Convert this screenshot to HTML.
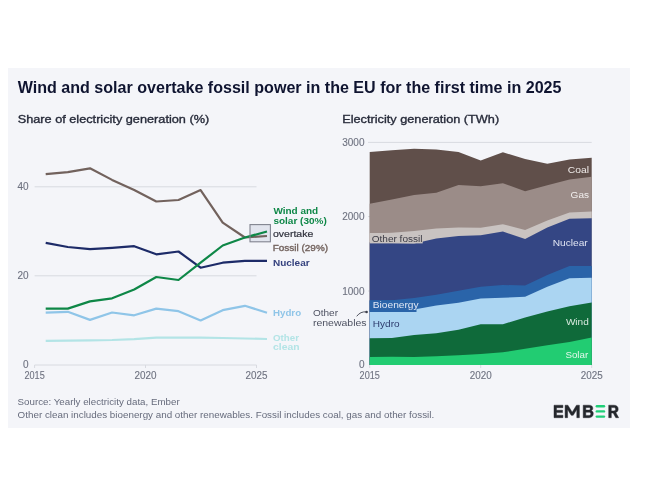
<!DOCTYPE html>
<html><head><meta charset="utf-8"><style>
html,body{margin:0;padding:0;background:#fff;width:650px;height:500px;overflow:hidden}
svg{display:block;will-change:transform}
text{font-family:"Liberation Sans", sans-serif}
</style></head><body>
<svg width="650" height="500" viewBox="0 0 650 500">
<rect x="8" y="68" width="622" height="360" fill="#f4f5f9"/>
<text x="17.7" y="92.8" font-size="15.8" font-weight="bold" fill="#0f1430" textLength="543.8" lengthAdjust="spacingAndGlyphs">Wind and solar overtake fossil power in the EU for the first time in 2025</text>
<text x="17.7" y="122.6" font-size="11.6" fill="#272b3a" stroke="#272b3a" stroke-width="0.35" textLength="191.5" lengthAdjust="spacingAndGlyphs">Share of electricity generation (%)</text>
<text x="342.2" y="122.6" font-size="11.6" fill="#272b3a" stroke="#272b3a" stroke-width="0.35" textLength="157" lengthAdjust="spacingAndGlyphs">Electricity generation (TWh)</text>
<line x1="34.6" y1="186.8" x2="256.5" y2="186.8" stroke="#d8dae0" stroke-width="1"/>
<text x="28.6" y="190.20000000000002" font-size="10" fill="#6f7381" stroke="#6f7381" stroke-width="0.12" text-anchor="end">40</text>
<line x1="34.6" y1="275.8" x2="256.5" y2="275.8" stroke="#d8dae0" stroke-width="1"/>
<text x="28.6" y="279.2" font-size="10" fill="#6f7381" stroke="#6f7381" stroke-width="0.12" text-anchor="end">20</text>
<line x1="34.6" y1="365" x2="256.5" y2="365" stroke="#d8dae0" stroke-width="1"/>
<text x="28.6" y="368.2" font-size="10" fill="#6f7381" stroke="#6f7381" stroke-width="0.12" text-anchor="end">0</text>
<line x1="34.6" y1="365" x2="34.6" y2="368" stroke="#d8dae0" stroke-width="1"/>
<text x="24.5" y="379.2" font-size="10" fill="#6f7381" stroke="#6f7381" stroke-width="0.12" textLength="20.2" lengthAdjust="spacingAndGlyphs">2015</text>
<line x1="145.5" y1="365" x2="145.5" y2="368" stroke="#d8dae0" stroke-width="1"/>
<text x="134.5" y="379.2" font-size="10" fill="#6f7381" stroke="#6f7381" stroke-width="0.12" textLength="22.0" lengthAdjust="spacingAndGlyphs">2020</text>
<line x1="256.5" y1="365" x2="256.5" y2="368" stroke="#d8dae0" stroke-width="1"/>
<text x="245.5" y="379.2" font-size="10" fill="#6f7381" stroke="#6f7381" stroke-width="0.12" textLength="22.0" lengthAdjust="spacingAndGlyphs">2025</text>
<rect x="250" y="224.6" width="20.4" height="17.2" fill="#e2e5ee"/>
<polyline points="45.7,340.8 67.8,340.6 90.0,340.3 112.1,340.0 134.2,339.2 156.3,337.7 178.5,337.7 200.6,337.7 222.7,338.0 244.9,338.5 267.0,339.0" fill="none" stroke="#b3e4e6" stroke-width="2.2" stroke-linejoin="round" stroke-linecap="butt"/>
<polyline points="45.7,312.7 67.8,311.8 90.0,319.9 112.1,312.5 134.2,315.3 156.3,308.6 178.5,311.2 200.6,320.5 222.7,310.2 244.9,305.8 267.0,312.7" fill="none" stroke="#8fc5e8" stroke-width="2.2" stroke-linejoin="round" stroke-linecap="butt"/>
<polyline points="45.7,174.2 67.8,172.2 90.0,168.3 112.1,179.9 134.2,190.1 156.3,201.5 178.5,200.0 200.6,190.1 222.7,222.6 244.9,237.5 267.0,236.0" fill="none" stroke="#72625d" stroke-width="2.2" stroke-linejoin="round" stroke-linecap="butt"/>
<polyline points="45.7,242.9 67.8,247.0 90.0,249.2 112.1,247.9 134.2,246.2 156.3,254.3 178.5,251.5 200.6,267.7 222.7,262.7 244.9,260.8 267.0,260.8" fill="none" stroke="#1d2b68" stroke-width="2.2" stroke-linejoin="round" stroke-linecap="butt"/>
<polyline points="45.7,308.6 67.8,308.6 90.0,301.4 112.1,298.3 134.2,289.5 156.3,277.0 178.5,280.0 200.6,262.7 222.7,245.5 244.9,237.5 267.0,231.5" fill="none" stroke="#0e8747" stroke-width="2.2" stroke-linejoin="round" stroke-linecap="butt"/>
<rect x="250" y="224.6" width="20.4" height="17.2" fill="none" stroke="#80838f" stroke-width="1.1"/>
<text x="273.4" y="214.3" font-size="9.2" font-weight="bold" fill="#0e8747" textLength="44.8" lengthAdjust="spacingAndGlyphs">Wind and</text>
<text x="273.4" y="224.4" font-size="9.2" font-weight="bold" fill="#0e8747" textLength="53.4" lengthAdjust="spacingAndGlyphs">solar (30%)</text>
<text x="273" y="237.4" font-size="9.2" fill="#30323d" stroke="#30323d" stroke-width="0.2" textLength="40.3" lengthAdjust="spacingAndGlyphs">overtake</text>
<text x="272.7" y="250.5" font-size="9.2" fill="#72625d" stroke="#72625d" stroke-width="0.35" textLength="55.4" lengthAdjust="spacingAndGlyphs">Fossil (29%)</text>
<text x="273" y="266.3" font-size="9.2" font-weight="bold" fill="#34417e" textLength="36.6" lengthAdjust="spacingAndGlyphs">Nuclear</text>
<text x="273" y="316.1" font-size="9.2" font-weight="bold" fill="#8fc5e8" textLength="28.1" lengthAdjust="spacingAndGlyphs">Hydro</text>
<text x="273" y="340.8" font-size="9.2" font-weight="bold" fill="#b3e4e6" textLength="26" lengthAdjust="spacingAndGlyphs">Other</text>
<text x="273" y="349.7" font-size="9.2" font-weight="bold" fill="#b3e4e6" textLength="26.5" lengthAdjust="spacingAndGlyphs">clean</text>
<line x1="368" y1="142.4" x2="591.7" y2="142.4" stroke="#d8dae0" stroke-width="1"/>
<text x="364.5" y="145.9" font-size="10" fill="#6f7381" stroke="#6f7381" stroke-width="0.12" text-anchor="end">3000</text>
<line x1="368" y1="216.6" x2="591.7" y2="216.6" stroke="#d8dae0" stroke-width="1"/>
<text x="364.5" y="220.1" font-size="10" fill="#6f7381" stroke="#6f7381" stroke-width="0.12" text-anchor="end">2000</text>
<line x1="368" y1="291.0" x2="591.7" y2="291.0" stroke="#d8dae0" stroke-width="1"/>
<text x="364.5" y="294.5" font-size="10" fill="#6f7381" stroke="#6f7381" stroke-width="0.12" text-anchor="end">1000</text>
<text x="364.5" y="368.2" font-size="10" fill="#6f7381" stroke="#6f7381" stroke-width="0.12" text-anchor="end">0</text>
<line x1="369.7" y1="364.5" x2="369.7" y2="368" stroke="#d8dae0" stroke-width="1"/>
<text x="359.6" y="379.2" font-size="10" fill="#6f7381" stroke="#6f7381" stroke-width="0.12" textLength="20.2" lengthAdjust="spacingAndGlyphs">2015</text>
<line x1="480.7" y1="364.5" x2="480.7" y2="368" stroke="#d8dae0" stroke-width="1"/>
<text x="469.7" y="379.2" font-size="10" fill="#6f7381" stroke="#6f7381" stroke-width="0.12" textLength="22.0" lengthAdjust="spacingAndGlyphs">2020</text>
<line x1="591.7" y1="364.5" x2="591.7" y2="368" stroke="#d8dae0" stroke-width="1"/>
<text x="580.7" y="379.2" font-size="10" fill="#6f7381" stroke="#6f7381" stroke-width="0.12" textLength="22.0" lengthAdjust="spacingAndGlyphs">2025</text>
<polygon points="369.7,152.1 391.9,150.3 414.1,148.7 436.3,149.5 458.5,152.1 480.7,160.6 502.9,152.3 525.1,159.0 547.3,163.8 569.5,159.4 591.7,157.8 591.7,364.9 369.7,364.9" fill="#604f4a"/>
<polygon points="369.7,203.8 391.9,199.6 414.1,195.0 436.3,192.7 458.5,185.1 480.7,186.2 502.9,183.2 525.1,191.3 547.3,185.3 569.5,179.6 591.7,176.8 591.7,364.9 369.7,364.9" fill="#9b8c88"/>
<polygon points="369.7,233.5 391.9,232.7 414.1,230.9 436.3,228.5 458.5,227.4 480.7,227.8 502.9,224.2 525.1,230.0 547.3,220.5 569.5,212.4 591.7,211.5 591.7,364.9 369.7,364.9" fill="#c9c3c1"/>
<polygon points="369.7,242.3 391.9,243.1 414.1,243.6 436.3,238.6 458.5,235.9 480.7,235.2 502.9,231.5 525.1,239.1 547.3,227.5 569.5,218.7 591.7,218.2 591.7,364.9 369.7,364.9" fill="#344684"/>
<polygon points="369.7,300.4 391.9,300.2 414.1,297.9 436.3,294.8 458.5,290.7 480.7,286.8 502.9,285.0 525.1,285.5 547.3,275.1 569.5,266.0 591.7,266.0 591.7,364.9 369.7,364.9" fill="#2a64a9"/>
<polygon points="369.7,311.8 391.9,311.5 414.1,309.5 436.3,305.5 458.5,302.8 480.7,298.5 502.9,297.7 525.1,296.7 547.3,286.8 569.5,278.2 591.7,277.7 591.7,364.9 369.7,364.9" fill="#abd5f2"/>
<polygon points="369.7,338.2 391.9,338.0 414.1,335.0 436.3,333.2 458.5,329.7 480.7,324.3 502.9,324.2 525.1,317.5 547.3,311.5 569.5,306.3 591.7,302.4 591.7,364.9 369.7,364.9" fill="#0f6a3a"/>
<polygon points="369.7,357.0 391.9,356.8 414.1,357.0 436.3,356.2 458.5,355.2 480.7,353.9 502.9,352.3 525.1,348.7 547.3,345.3 569.5,341.9 591.7,337.5 591.7,364.9 369.7,364.9" fill="#22cc72"/>
<rect x="369.7" y="300.3" width="46.8" height="11.7" fill="#2a64a9"/>
<rect x="369.7" y="233" width="53" height="10.4" fill="#c9c3c1"/>
<text x="371.7" y="241.9" font-size="9.2" fill="#3a3a44" textLength="50.8" lengthAdjust="spacingAndGlyphs">Other fossil</text>
<text x="372.8" y="308.4" font-size="9.2" fill="#dfe7f4" textLength="45.8" lengthAdjust="spacingAndGlyphs">Bioenergy</text>
<text x="372.8" y="326.9" font-size="9.2" fill="#2d3c6e" textLength="26.8" lengthAdjust="spacingAndGlyphs">Hydro</text>
<text x="567.8" y="172.8" font-size="9.2" fill="#f0ecea" textLength="21.2" lengthAdjust="spacingAndGlyphs">Coal</text>
<text x="570.6" y="197.6" font-size="9.2" fill="#f3f0ef" textLength="18.4" lengthAdjust="spacingAndGlyphs">Gas</text>
<text x="552.7" y="245.8" font-size="9.2" fill="#dfe4f2" textLength="35" lengthAdjust="spacingAndGlyphs">Nuclear</text>
<text x="565.9" y="324.5" font-size="9.2" fill="#d8eadf" textLength="22.9" lengthAdjust="spacingAndGlyphs">Wind</text>
<text x="565.4" y="357.8" font-size="9.2" fill="#e4f7ec" textLength="22.8" lengthAdjust="spacingAndGlyphs">Solar</text>
<text x="312.9" y="316.2" font-size="9.2" fill="#4e5262" textLength="25.1" lengthAdjust="spacingAndGlyphs">Other</text>
<text x="312.9" y="325.8" font-size="9.2" fill="#4e5262" textLength="53.7" lengthAdjust="spacingAndGlyphs">renewables</text>
<path d="M356.7,316.3 Q360.5,311.2 366.5,311.9" fill="none" stroke="#3c3f4c" stroke-width="0.9"/>
<circle cx="366.6" cy="312" r="1.3" fill="#3c3f4c"/>
<text x="17.6" y="405" font-size="8.8" fill="#666b7c" textLength="162.1" lengthAdjust="spacingAndGlyphs">Source: Yearly electricity data, Ember</text>
<text x="17.6" y="418" font-size="8.8" fill="#666b7c" textLength="416.6" lengthAdjust="spacingAndGlyphs">Other clean includes bioenergy and other renewables. Fossil includes coal, gas and other fossil.</text>
<g fill="#24272c" stroke="#24272c" stroke-width="0.45" stroke-linejoin="miter"><path d="M554,405.2 h8.9 v2.5 h-6.4 v2.5 h6 v2.4 h-6 v2.6 h6.4 v2.5 h-8.9 z"/><path d="M565.1,417.7 v-12.5 h2.8 l4.3,7 l4.3,-7 h2.9 v12.5 h-2.6 v-8.2 l-3.6,5.8 h-2 l-3.6,-5.8 v8.2 z"/><path fill-rule="evenodd" d="M583.2,405.2 h5.8 c2.5,0 3.8,1.2 3.8,3.1 c0,1.2 -0.6,2 -1.5,2.5 c1.3,0.4 2,1.4 2,2.8 c0,2.4 -1.7,4.1 -4.3,4.1 h-5.8 z M585.8,407.5 v2.6 h3 c0.9,0 1.5,-0.5 1.5,-1.3 c0,-0.8 -0.6,-1.3 -1.5,-1.3 z M585.8,412.2 v3.2 h3.3 c1,0 1.7,-0.6 1.7,-1.6 c0,-1 -0.7,-1.6 -1.7,-1.6 z"/><path fill-rule="evenodd" d="M608.7,405.2 h5.2 c2.7,0 4.3,1.5 4.3,3.9 c0,1.7 -0.9,3 -2.4,3.5 l2.9,5.1 h-2.9 l-2.6,-4.7 h-1.9 v4.7 h-2.6 z M611.3,407.6 v3.3 h2.5 c1.1,0 1.8,-0.6 1.8,-1.65 c0,-1.05 -0.7,-1.65 -1.8,-1.65 z"/></g>
<g stroke="#20cf78" stroke-width="2.4" stroke-linecap="round"><line x1="596.8" y1="406.3" x2="604" y2="406.3"/><line x1="596.8" y1="411.4" x2="604" y2="411.4"/><line x1="596.8" y1="416.6" x2="604" y2="416.6"/></g>
</svg>
</body></html>
